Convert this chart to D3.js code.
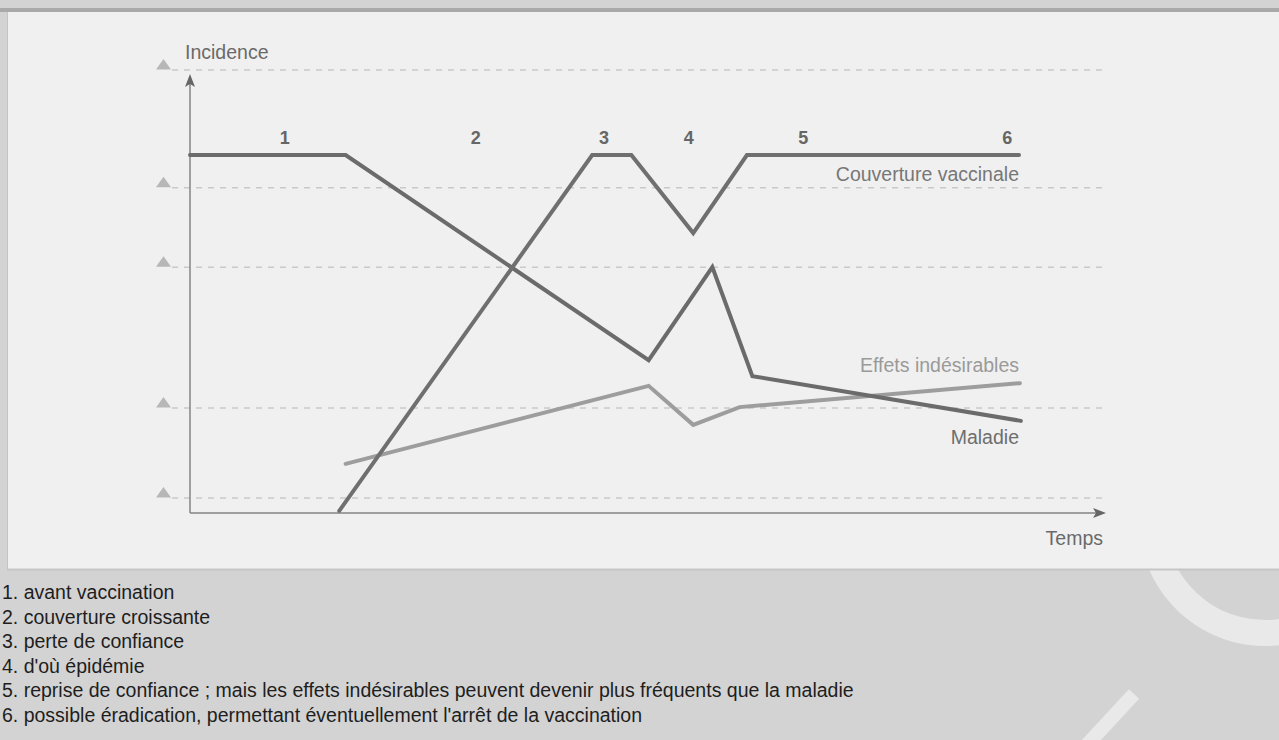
<!DOCTYPE html>
<html>
<head>
<meta charset="utf-8">
<script src="https://cdn.jsdelivr.net/npm/d3@7"></script>
<style>
  html, body { margin: 0; padding: 0; background: #d3d3d3; overflow: hidden; }
  svg { display: block; font-family: "Liberation Sans", Arial, sans-serif; }
</style>
</head>
<body>
<svg id="chart" width="1279" height="740"></svg>
<script>
// temps (0-100) et incidence (0-100)
const couverture = [[16.4, 0.5], [44.2, 80.8], [48.5, 80.8], [55.3, 63.2], [61.2, 80.8], [91.1, 80.8]];
const maladie = [[0, 80.8], [17.1, 80.8], [50.4, 34.5], [57.4, 55.5], [61.8, 30.9], [91.3, 20.8]];
const effets = [[17.1, 11.1], [50.4, 28.7], [55.3, 19.9], [60.4, 23.9], [91.2, 29.3]];

// niveaux des pointillés
const gridLevels = [100, 73.4, 55.5, 23.7, 3.4];

// numéros des phases (position en temps)
const phaseNums = ["1", "2", "3", "4", "5", "6"];
const phaseTimes = [10.4, 31.4, 45.5, 54.8, 67.4, 89.8];

const legendLines = [
  "1. avant vaccination",
  "2. couverture croissante",
  "3. perte de confiance",
  "4. d'où épidémie",
  "5. reprise de confiance ; mais les effets indésirables peuvent devenir plus fréquents que la maladie",
  "6. possible éradication, permettant éventuellement l'arrêt de la vaccination"
];

const svg = d3.select("#chart");

// --- fond / cadre ---
svg.append("rect").attr("x", 0).attr("y", 0).attr("width", 1279).attr("height", 740).attr("fill", "#d3d3d3");
svg.append("rect").attr("x", 0).attr("y", 8).attr("width", 1279).attr("height", 4).attr("fill", "#a9a9a9");

// décor blanc en bas à droite (sous le panneau)
const deco = svg.append("g").attr("fill", "#e9e9e9");
deco.append("path")
  .attr("transform", "translate(1265,520)")
  .attr("d", d3.arc().innerRadius(100).outerRadius(126).startAngle(Math.PI * 0.55).endAngle(Math.PI * 1.4)());
svg.append("line").attr("x1", 1134).attr("y1", 694).attr("x2", 1084).attr("y2", 748)
  .attr("stroke", "#e9e9e9").attr("stroke-width", 14);

svg.append("rect").attr("x", 7).attr("y", 12).attr("width", 1272).attr("height", 557).attr("fill", "#f0f0f0");
svg.append("line").attr("x1", 7.5).attr("x2", 7.5).attr("y1", 12).attr("y2", 569).attr("stroke", "#c4c4c4");
svg.append("line").attr("x1", 7).attr("x2", 1279).attr("y1", 569.5).attr("y2", 569.5).attr("stroke", "#c6c6c6").attr("stroke-width", 2);

// --- échelles ---
const x = d3.scaleLinear().domain([0, 100]).range([190, 1100]);
const y = d3.scaleLinear().domain([0, 100]).range([513, 70]);

const g = svg.append("g");

// pointillés + triangles
g.selectAll("line.grid").data(gridLevels).join("line")
  .attr("class", "grid")
  .attr("x1", 172).attr("x2", x(100) + 4)
  .attr("y1", d => y(d)).attr("y2", d => y(d))
  .attr("stroke", "#c9c9c9").attr("stroke-width", 1.5)
  .attr("stroke-dasharray", "6,6");

g.selectAll("path.tri").data(gridLevels).join("path")
  .attr("class", "tri")
  .attr("d", d => `M${156},${y(d) - 0.5}L${171},${y(d) - 0.5}L${163.5},${y(d) - 11}Z`)
  .attr("fill", "#b7b7b7");

// axes avec flèches
const axisColor = "#858585";
g.append("line").attr("x1", x(0)).attr("x2", x(0)).attr("y1", y(0)).attr("y2", y(100) + 12)
  .attr("stroke", axisColor).attr("stroke-width", 1.5);
g.append("path")
  .attr("d", `M${x(0)},${y(100) + 4}L${x(0) - 5},${y(100) + 17}L${x(0)},${y(100) + 14}L${x(0) + 5},${y(100) + 17}Z`)
  .attr("fill", "#666");
g.append("line").attr("x1", x(0)).attr("x2", x(100) - 4).attr("y1", y(0)).attr("y2", y(0))
  .attr("stroke", axisColor).attr("stroke-width", 1.5);
g.append("path")
  .attr("d", `M${x(100) + 6},${y(0)}L${x(100) - 7},${y(0) - 5}L${x(100) - 4},${y(0)}L${x(100) - 7},${y(0) + 5}Z`)
  .attr("fill", "#666");

g.append("text").attr("x", 185).attr("y", 59).attr("font-size", 19.5).attr("fill", "#6a6a6a").text("Incidence");
g.append("text").attr("x", x(100) + 3).attr("y", 545).attr("text-anchor", "end")
  .attr("font-size", 19.5).attr("fill", "#6a6a6a").text("Temps");

// --- courbes ---
const line = d3.line().x(d => x(d[0])).y(d => y(d[1]));

g.append("path").datum(effets).attr("d", line)
  .attr("fill", "none").attr("stroke", "#9d9d9d").attr("stroke-width", 4)
  .attr("stroke-linejoin", "miter").attr("stroke-linecap", "round");
g.append("path").datum(maladie).attr("d", line)
  .attr("fill", "none").attr("stroke", "#6b6b6b").attr("stroke-width", 4)
  .attr("stroke-linejoin", "miter").attr("stroke-linecap", "round");
g.append("path").datum(couverture).attr("d", line)
  .attr("fill", "none").attr("stroke", "#6f6f6f").attr("stroke-width", 4)
  .attr("stroke-linejoin", "miter").attr("stroke-linecap", "round");

// étiquettes des séries (alignées à droite sur la fin des courbes)
const endX = x(91.1);
g.append("text").attr("x", endX).attr("y", 181).attr("text-anchor", "end")
  .attr("font-size", 19.5).attr("fill", "#777").text("Couverture vaccinale");
g.append("text").attr("x", endX).attr("y", 372).attr("text-anchor", "end")
  .attr("font-size", 19.5).attr("fill", "#9a9a9a").text("Effets indésirables");
g.append("text").attr("x", endX).attr("y", 444).attr("text-anchor", "end")
  .attr("font-size", 19.5).attr("fill", "#6e6e6e").text("Maladie");

// numéros des phases
g.selectAll("text.phase").data(phaseNums).join("text")
  .attr("class", "phase")
  .attr("x", (d, i) => x(phaseTimes[i]))
  .attr("y", 144)
  .attr("text-anchor", "middle")
  .attr("font-size", 18).attr("font-weight", "bold").attr("fill", "#666")
  .text(d => d);

// --- légende sous le graphique ---
svg.append("g").selectAll("text").data(legendLines).join("text")
  .attr("x", 2)
  .attr("y", (d, i) => 599 + i * 24.5)
  .attr("font-size", 19.5).attr("fill", "#1e1e1e")
  .text(d => d);
</script>
</body>
</html>
